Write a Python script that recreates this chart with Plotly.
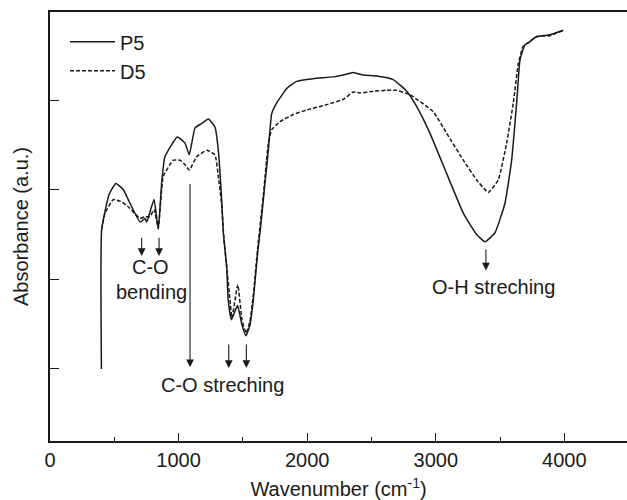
import plotly.graph_objects as go

# P5 (solid) spectrum: wavenumber / absorbance (a.u.)
p5_wn = [400, 402, 460, 513, 570, 622, 700, 739, 752, 809, 842, 869, 894, 990, 1050, 1083,
         1128, 1180, 1231, 1283, 1309, 1335, 1348, 1374, 1386, 1411, 1458, 1493, 1524, 1555,
         1581, 1617, 1633, 1659, 1672, 1698, 1724, 1763, 1841, 1918, 2047, 2203, 2281, 2358,
         2436, 2540, 2669, 2774, 2851, 2955, 3085, 3214, 3318, 3383, 3460, 3538, 3590, 3629,
         3655, 3694, 3719, 3785, 3888, 3992]
p5_ab = [1.00, 2.56, 2.95, 3.07, 3.00, 2.85, 2.64, 2.68, 2.64, 2.89, 2.56, 3.09, 3.37, 3.59,
         3.52, 3.39, 3.69, 3.74, 3.79, 3.70, 3.44, 2.89, 2.52, 2.14, 1.77, 1.55, 1.71, 1.49,
         1.37, 1.49, 1.77, 2.33, 2.52, 2.89, 3.08, 3.44, 3.85, 3.97, 4.13, 4.21, 4.24, 4.26,
         4.28, 4.31, 4.28, 4.27, 4.23, 4.10, 3.93, 3.63, 3.18, 2.74, 2.50, 2.42, 2.52, 2.85,
         3.33, 3.97, 4.45, 4.62, 4.64, 4.71, 4.73, 4.78]

# D5 (dashed) spectrum
d5_wn = [402, 428, 492, 550, 609, 700, 739, 778, 809, 842, 881, 959, 1011, 1050, 1083, 1141,
         1219, 1283, 1309, 1335, 1353, 1376, 1400, 1415, 1460, 1493, 1524, 1555, 1581, 1617,
         1659, 1698, 1724, 1788, 1892, 1996, 2152, 2281, 2358, 2411, 2514, 2618, 2696, 2799,
         2981, 3085, 3214, 3318, 3408, 3486, 3551, 3603, 3642, 3680, 3717, 3785, 3888, 3992]
d5_ab = [2.56, 2.74, 2.89, 2.87, 2.81, 2.68, 2.70, 2.70, 2.78, 2.57, 3.15, 3.33, 3.33, 3.28,
         3.22, 3.37, 3.44, 3.39, 3.15, 2.83, 2.44, 2.11, 1.77, 1.57, 1.94, 1.55, 1.40, 1.53,
         1.83, 2.38, 2.94, 3.52, 3.67, 3.76, 3.84, 3.89, 3.95, 4.01, 4.09, 4.08, 4.10, 4.11,
         4.11, 4.06, 3.87, 3.63, 3.33, 3.11, 2.97, 3.11, 3.52, 3.97, 4.41, 4.60, 4.64, 4.71,
         4.72, 4.78]

x_ticks = [0, 1000, 2000, 3000, 4000]
y_ticks = [1, 2, 3, 4]

# arrows: (x, tail_y, head_y)
arrows = [(713, 2.48, 2.26), (848, 2.48, 2.26), (1089, 3.08, 1.02),
          (1390, 1.29, 1.01), (1527, 1.29, 1.01), (3390, 2.35, 2.10)]
labels = [("C-O", 785, 2.14), ("bending", 793, 1.86),
          ("C-O streching", 1345, 0.82), ("O-H streching", 3445, 1.915)]

ink = "#1a1a1a"
font = "Liberation Sans, Arial, sans-serif"

fig = go.Figure()
fig.add_trace(go.Scatter(x=p5_wn, y=p5_ab, mode="lines", name="P5",
                         line=dict(color=ink, width=1.5, shape="spline", smoothing=0.4)))
fig.add_trace(go.Scatter(x=d5_wn, y=d5_ab, mode="lines", name="D5",
                         line=dict(color=ink, width=1.5, dash="4px,2px", shape="spline", smoothing=0.4)))

for x, ty, hy in arrows:
    fig.add_annotation(x=x, y=hy, ax=x, ay=ty, xref="x", yref="y", axref="x", ayref="y",
                       text="", showarrow=True, arrowhead=2, arrowsize=1.4, arrowwidth=1.1,
                       arrowcolor=ink)
for t, x, y in labels:
    fig.add_annotation(x=x, y=y, xref="x", yref="y", text=t, showarrow=False,
                       font=dict(size=20, color=ink, family=font))

fig.update_layout(
    width=627, height=500,
    margin=dict(l=50, r=0, t=12, b=59),
    paper_bgcolor="white", plot_bgcolor="white",
    font=dict(family=font, size=20, color=ink),
    showlegend=True,
    legend=dict(x=0.026, y=0.976, xanchor="left", yanchor="top", bgcolor="rgba(0,0,0,0)",
                font=dict(size=20), itemwidth=45, tracegroupgap=0),
    xaxis=dict(range=[0, 4487], tickvals=x_ticks, ticks="inside", ticklen=8, tickwidth=1.2,
               tickcolor=ink, showline=True, linecolor=ink, linewidth=1.5, mirror=True,
               showgrid=False, zeroline=False, automargin=False,
               minor=dict(ticks="inside", ticklen=4, dtick=500, tickcolor=ink, showgrid=False),
               title=dict(text="Wavenumber (cm<sup>-1</sup>)", standoff=13,
                          font=dict(size=20))),
    yaxis=dict(range=[0.196, 4.984], tickvals=y_ticks, ticks="inside", ticklen=9, tickwidth=1.2,
               tickcolor=ink, showticklabels=False, showline=True, linecolor=ink, linewidth=1.5,
               showgrid=False, zeroline=False, automargin=False,
               title=dict(text="Absorbance (a.u.)", standoff=14, font=dict(size=20))),
)

fig.write_html("out.html", config={"displayModeBar": False},
               post_script="document.body.style.margin='0';document.body.style.overflow='hidden';")
